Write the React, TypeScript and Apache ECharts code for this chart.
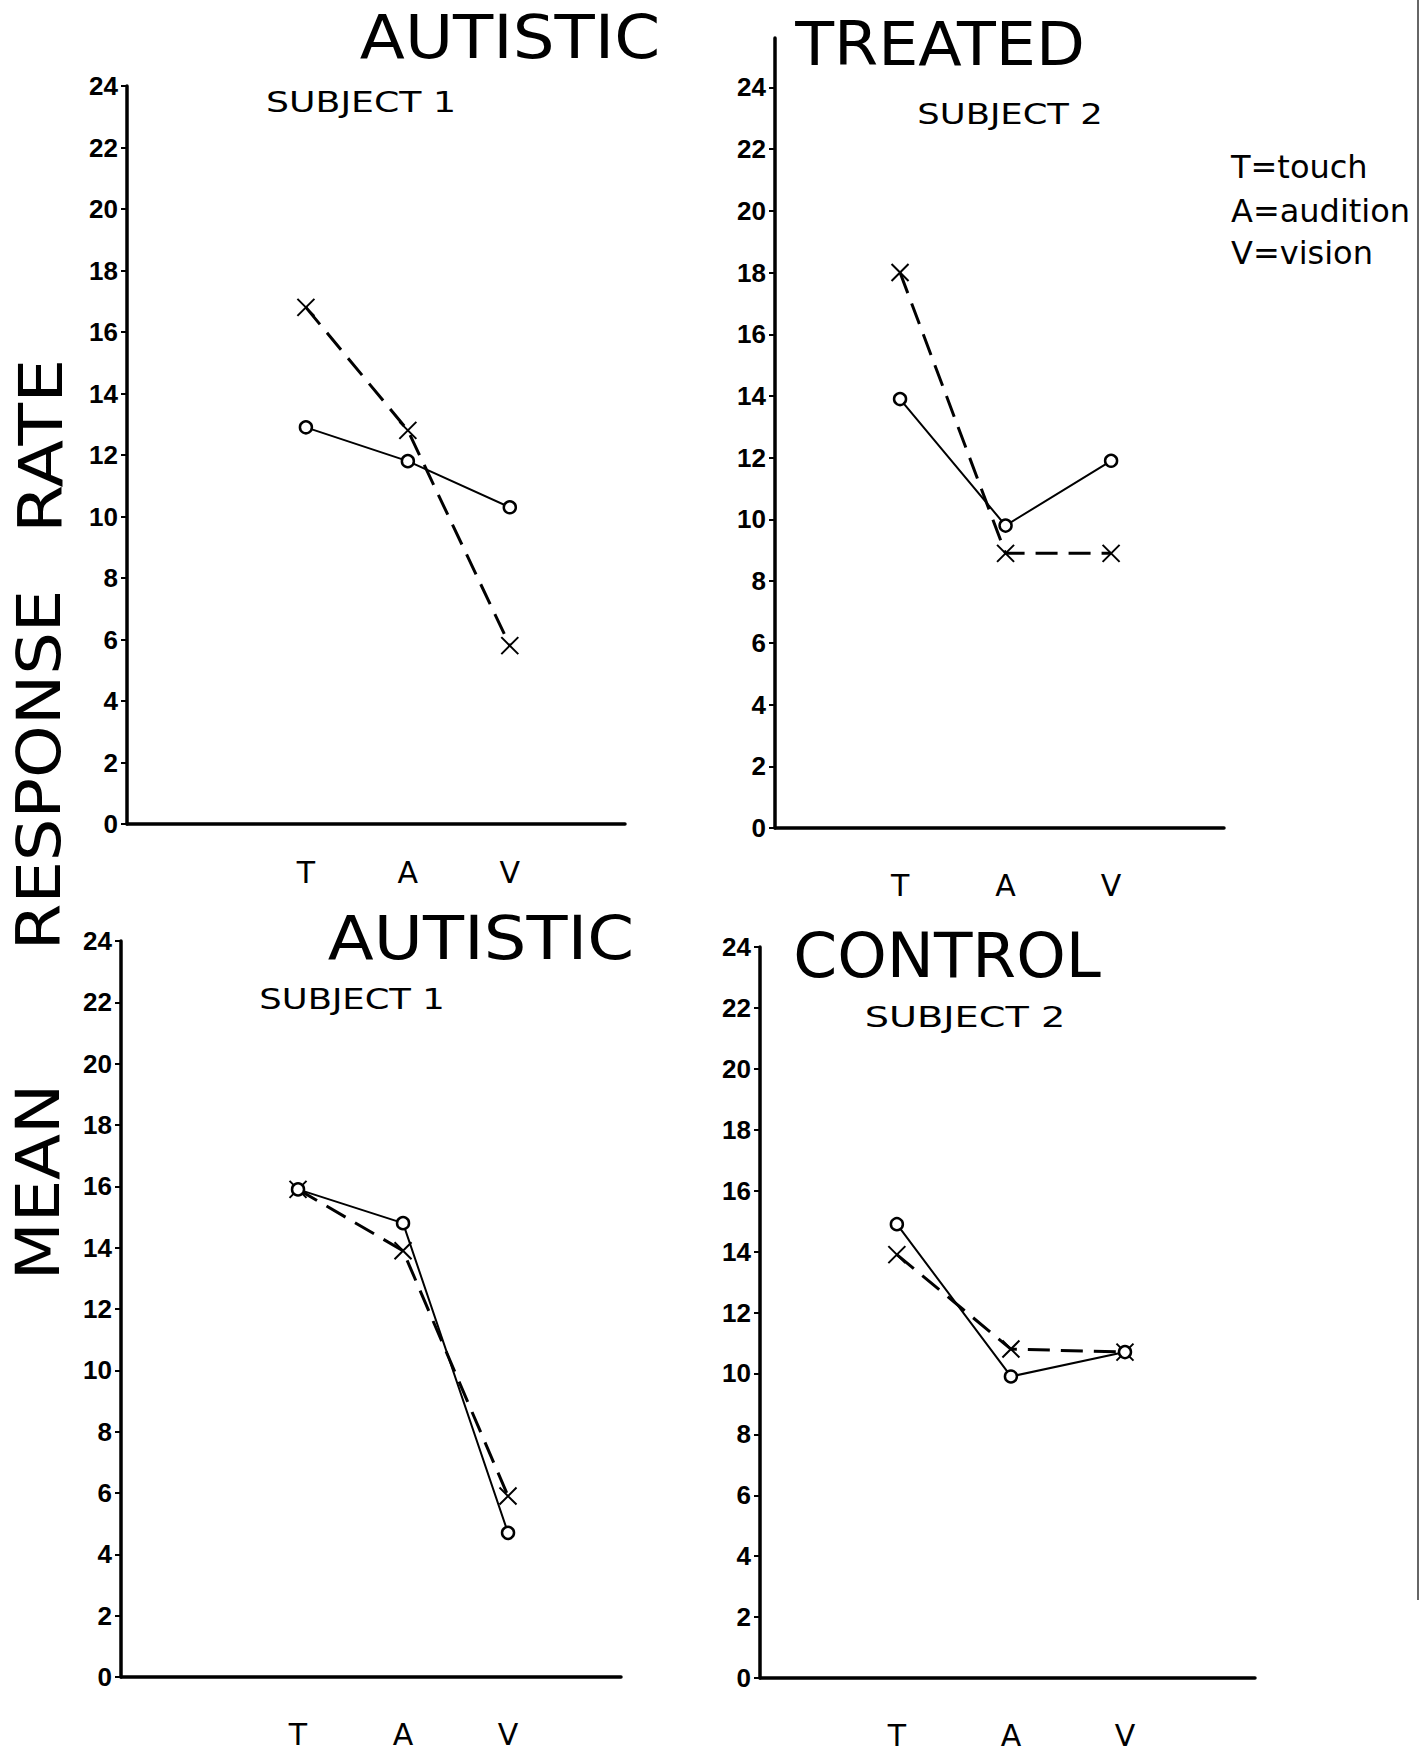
import React, { useEffect, useRef } from "react";
import * as echarts from "echarts";

const categories = ["T", "A", "V"];
const yTicks = [0, 2, 4, 6, 8, 10, 12, 14, 16, 18, 20, 22, 24];
const legendLines = ["T=touch", "A=audition", "V=vision"];
const axisTitleWords = ["MEAN", "RESPONSE", "RATE"];
const panelTitles = ["AUTISTIC", "TREATED", "AUTISTIC", "CONTROL"];
const subjectTitles = ["SUBJECT 1", "SUBJECT 2", "SUBJECT 1", "SUBJECT 2"];

// values: "o" (solid line) and "x" (dashed line)
const autisticTopCircle = [12.9, 11.8, 10.3];
const autisticTopCross = [16.8, 12.8, 5.8];
const treatedCircle = [13.9, 9.8, 11.9];
const treatedCross = [18.0, 8.9, 8.9];
const autisticBottomCircle = [15.9, 14.8, 4.7];
const autisticBottomCross = [15.9, 13.9, 5.9];
const controlCircle = [14.9, 9.9, 10.7];
const controlCross = [13.9, 10.8, 10.7];

const FONT = '"DejaVu Sans", Arial, sans-serif';
const TICK_FONT = '"Liberation Sans", Arial, sans-serif';

const panels = [
  { grid: { left: 127, top: 86, width: 498, height: 738 }, xMin: -1.755, xMax: 3.13, yMax: 24, labelMargin: 33, circle: autisticTopCircle, cross: autisticTopCross,
    title: { cx: 510, cy: 37, size: 61, sx: 1.08 }, sub: { cx: 361, cy: 102, sx: 1.25 } },
  { grid: { left: 775, top: 38, width: 449, height: 790 }, xMin: -1.185, xMax: 3.07, yMax: 25.6, labelMargin: 42, circle: treatedCircle, cross: treatedCross,
    title: { cx: 940, cy: 45, size: 60, sx: 1.06 }, sub: { cx: 1010, cy: 114, sx: 1.22 } },
  { grid: { left: 121, top: 941, width: 500, height: 736 }, xMin: -1.686, xMax: 3.076, yMax: 24, labelMargin: 42, circle: autisticBottomCircle, cross: autisticBottomCross,
    title: { cx: 481, cy: 938, size: 60, sx: 1.12 }, sub: { cx: 352, cy: 999, sx: 1.22 } },
  { grid: { left: 760, top: 947, width: 495, height: 731 }, xMin: -1.2, xMax: 3.14, yMax: 24, labelMargin: 42, circle: controlCircle, cross: controlCross,
    title: { cx: 947, cy: 955, size: 63, sx: 1.0 }, sub: { cx: 965, cy: 1017, sx: 1.32 } },
];

const CROSS = "path://M0,0L17,17M17,0L0,17";

export default function App() {
  const ref = useRef<HTMLDivElement>(null);
  useEffect(() => {
    if (!ref.current) return;
    const chart = echarts.init(ref.current, null, { renderer: "svg" });
    const catIdx = categories.map((_, i) => i);

    const grid = panels.map((p) => ({ ...p.grid, containLabel: false }));
    const xAxis = panels.map((p, i) => ({
      type: "value",
      gridIndex: i,
      min: p.xMin,
      max: p.xMax,
      splitLine: { show: false },
      axisTick: { show: false },
      axisLine: { show: true, onZero: false, lineStyle: { color: "#000", width: 3.5 } },
      axisLabel: {
        customValues: catIdx,
        formatter: (v: number) => categories[Math.round(v)] ?? "",
        fontSize: 30,
        fontFamily: FONT,
        color: "#000",
        margin: p.labelMargin,
      },
    }));
    const yAxis = panels.map((p, i) => ({
      type: "value",
      gridIndex: i,
      min: 0,
      max: p.yMax,
      interval: 2,
      splitLine: { show: false },
      axisLine: { show: true, onZero: false, lineStyle: { color: "#000", width: 3.5 } },
      axisTick: { show: true, length: 6, customValues: yTicks, lineStyle: { color: "#000", width: 2 } },
      axisLabel: { customValues: yTicks, fontSize: 26, fontFamily: TICK_FONT, fontWeight: "bold", color: "#000", margin: 9 },
    }));

    const series: any[] = [];
    panels.forEach((p, i) => {
      series.push({
        type: "line",
        xAxisIndex: i,
        yAxisIndex: i,
        data: p.circle.map((v, k) => [catIdx[k], v]),
        symbol: "circle",
        symbolSize: 12,
        itemStyle: { color: "#fff", borderColor: "#000", borderWidth: 2.5 },
        lineStyle: { color: "#000", width: 2 },
        emphasis: { disabled: true },
        z: 3,
      });
      series.push({
        type: "line",
        xAxisIndex: i,
        yAxisIndex: i,
        data: p.cross.map((v, k) => [catIdx[k], v]),
        symbol: CROSS,
        symbolSize: 17,
        itemStyle: { color: "#000", borderColor: "#000", borderWidth: 2 },
        lineStyle: { color: "#000", width: 3, type: [22, 11] },
        emphasis: { disabled: true },
        z: 2,
      });
    });

    const graphic: any[] = [];
    panels.forEach((p, i) => {
      graphic.push({
        type: "text",
        x: p.title.cx,
        y: p.title.cy,
        scaleX: p.title.sx,
        style: { text: panelTitles[i], fontSize: p.title.size, fontFamily: FONT, fill: "#000", textAlign: "center", textVerticalAlign: "middle" },
      });
      graphic.push({
        type: "text",
        x: p.sub.cx,
        y: p.sub.cy,
        scaleX: p.sub.sx,
        style: { text: subjectTitles[i], fontSize: 29, fontFamily: FONT, fill: "#000", textAlign: "center", textVerticalAlign: "middle" },
      });
    });
    const legendY = [167, 211, 253];
    legendLines.forEach((t, i) => {
      graphic.push({
        type: "text",
        x: 1231,
        y: legendY[i],
        style: { text: t, fontSize: 32, fontFamily: FONT, fill: "#000", textAlign: "left", textVerticalAlign: "middle" },
      });
    });
    const wordPos = [
      { x: 38, y: 1182, sx: 1.12 },
      { x: 39, y: 770, sx: 1.12 },
      { x: 41, y: 446, sx: 1.16 },
    ];
    axisTitleWords.forEach((w, i) => {
      graphic.push({
        type: "text",
        x: wordPos[i].x,
        y: wordPos[i].y,
        rotation: Math.PI / 2,
        scaleX: wordPos[i].sx,
        style: { text: w, fontSize: 60, fontFamily: FONT, fill: "#000", textAlign: "center", textVerticalAlign: "middle" },
      });
    });
    graphic.push({
      type: "line",
      shape: { x1: 1418, y1: 0, x2: 1418, y2: 1600 },
      style: { stroke: "#666", lineWidth: 2 },
    });

    chart.setOption({
      animation: false,
      backgroundColor: "#fff",
      grid,
      xAxis,
      yAxis,
      series,
      graphic,
    });
    return () => chart.dispose();
  }, []);
  return <div ref={ref} style={{ position: "absolute", left: 0, top: 0, width: 1421, height: 1764 }} />;
}
